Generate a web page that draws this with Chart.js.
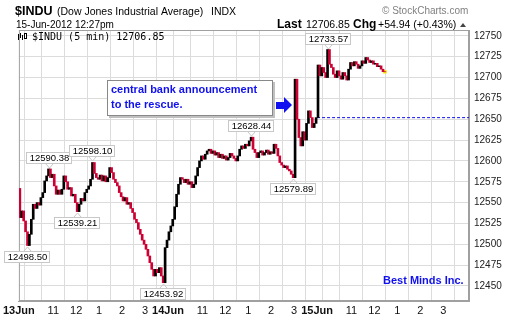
<!DOCTYPE html>
<html>
<head>
<meta charset="utf-8">
<script src="https://cdn.jsdelivr.net/npm/chart.js@4.4.1/dist/chart.umd.min.js"></script>
<style>
    html, body { margin: 0; padding: 0; background: #fff; }
    #wrap { width: 518px; height: 318px; }
</style>
</head>
<body>
<div id="wrap"><canvas id="indu"></canvas></div>
<script>
// 5 minute closes (9:30 to 16:00, 78 bars a day)
const day1Close = [
    12532, 12540, 12528, 12515, 12498.50, 12512, 12530, 12548, 12543, 12550,
    12547, 12556, 12562, 12576, 12582, 12590.38, 12580, 12584, 12570, 12560,
    12565, 12560, 12566, 12582, 12575, 12566, 12568, 12558, 12560, 12550,
    12539.21, 12548, 12555, 12552, 12562, 12566, 12570, 12578, 12598.10, 12585,
    12580, 12578, 12583, 12576, 12582, 12575, 12580, 12592, 12586, 12578,
    12574, 12570, 12562, 12557, 12552, 12556, 12548, 12550, 12543, 12538,
    12530, 12526, 12518, 12512, 12505, 12500, 12494, 12486, 12478, 12470,
    12462, 12470, 12466, 12472, 12462, 12453.92, 12496, 12505
];
const day2Close = [
    12515, 12522, 12530, 12545, 12560, 12572, 12580, 12578, 12574, 12578,
    12572, 12575, 12568, 12572, 12582, 12592, 12600, 12606, 12602, 12608,
    12612, 12614, 12609, 12612, 12607, 12610, 12604, 12608, 12603, 12606,
    12601, 12604, 12609, 12606, 12603, 12600, 12606, 12614, 12618, 12615,
    12620, 12618, 12624, 12628.44, 12614, 12610, 12604, 12610, 12612, 12607,
    12610, 12613, 12608, 12611, 12609, 12620, 12615, 12606, 12598, 12595,
    12592, 12594, 12590, 12588, 12584, 12579.89, 12698, 12650, 12628, 12618,
    12635, 12625, 12645, 12660, 12652, 12640, 12645, 12651.91
];
const day3Close = [
    12715, 12702, 12712, 12706, 12700, 12733.57, 12716, 12712, 12704, 12700,
    12708, 12702, 12698, 12706, 12702, 12697, 12710, 12718, 12714, 12719,
    12716, 12711, 12714, 12720, 12717, 12724, 12721, 12718, 12720, 12716,
    12717, 12713, 12714, 12710, 12707, 12706.85
];
const firstOpen = 12567;
const prevClose = 12651.91;

const barsPerDay = 78;
const dayLabels = ["13Jun", "14Jun", "15Jun"];
const hourBars = [6, 18, 30, 42, 54, 66];
const hourLabels = ["", "11", "12", "1", "2", "3"];
const yTicks = [12450, 12475, 12500, 12525, 12550, 12575, 12600, 12625, 12650, 12675, 12700, 12725, 12750];

// [day, bar, side] for the price callouts
const callouts = [
    [0, 4, "below"], [0, 15, "above"], [0, 30, "below"], [0, 38, "above"],
    [0, 75, "below"], [1, 43, "above"], [1, 65, "below"], [2, 5, "above"]
];

const FONT = '"Liberation Sans", Arial, sans-serif';
const UP = "#000000";
const DOWN = "#cc0033";

const closes = day1Close.concat(day2Close, day3Close);
let prev = firstOpen;
const bars = closes.map((c, i) => {
    const o = prev;
    prev = c;
    return { x: i + 0.5, y: [o, c] };
});
const barColors = bars.map((b) => (b.y[1] >= b.y[0] ? UP : DOWN));
const lastIdx = closes.length - 1;

const tickValues = [];
dayLabels.forEach((d, di) => {
    tickValues.push(di * barsPerDay);
    hourBars.forEach((h) => tickValues.push(di * barsPerDay + h));
});

function tickLabel(v) {
    const day = Math.floor(v / barsPerDay);
    const off = v - day * barsPerDay;
    if (off === 0) return dayLabels[day];
    return hourLabels[hourBars.indexOf(off)];
}

const overlay = {
    id: "overlay",
    beforeDraw(chart) {
        const ctx = chart.ctx;
        ctx.save();
        ctx.fillStyle = "#fff";
        ctx.fillRect(0, 0, chart.width, chart.height);
        ctx.restore();
    },
    beforeDatasetsDraw(chart) {
        const ctx = chart.ctx;
        const a = chart.chartArea;
        ctx.save();
        ctx.strokeStyle = "#a0a0a0";
        ctx.lineWidth = 1;
        ctx.strokeRect(a.left + 0.5, a.top + 0.5, a.right - a.left - 1, a.bottom - a.top - 1);
        ctx.restore();
    },
    afterDatasetsDraw(chart) {
        const ctx = chart.ctx;
        const xs = chart.scales.x;
        const ys = chart.scales.y;
        ctx.save();

        // callouts
        ctx.font = "9.5px " + FONT;
        ctx.textAlign = "center";
        ctx.textBaseline = "middle";
        callouts.forEach(([d, b, side]) => {
            const idx = d * barsPerDay + b;
            const v = closes[idx];
            const px = Math.round(xs.getPixelForValue(idx + 0.5));
            const py = ys.getPixelForValue(v);
            const txt = v.toFixed(2);
            const w = Math.round(ctx.measureText(txt).width) + 6;
            const h = 12;
            const top = side === "above" ? Math.round(py) - 5 - h : Math.round(py) + 5;
            const left = px - Math.round(w / 2);
            ctx.fillStyle = "#fff";
            ctx.fillRect(left, top, w, h);
            ctx.strokeStyle = "#c8c8c8";
            ctx.strokeRect(left + 0.5, top + 0.5, w - 1, h - 1);
            ctx.beginPath();
            if (side === "above") {
                ctx.moveTo(px - 3, top + h);
                ctx.lineTo(px + 0.5, top + h + 4);
                ctx.lineTo(px + 4, top + h);
            } else {
                ctx.moveTo(px - 3, top);
                ctx.lineTo(px + 0.5, top - 4);
                ctx.lineTo(px + 4, top);
            }
            ctx.stroke();
            ctx.fillStyle = "#000";
            ctx.fillText(txt, px + 0.5, top + h / 2 + 0.5);
        });

        // comment box
        ctx.fillStyle = "#c0c0c0";
        ctx.fillRect(109, 82, 166, 36);
        ctx.fillStyle = "#fff";
        ctx.fillRect(107, 80, 166, 36);
        ctx.strokeStyle = "#888";
        ctx.strokeRect(107.5, 80.5, 165, 35);
        ctx.fillStyle = "#1010f0";
        ctx.font = "bold 11px " + FONT;
        ctx.textAlign = "left";
        ctx.fillText("central bank announcement", 111, 90);
        ctx.fillText("to the rescue.", 111, 105);

        // arrow
        ctx.beginPath();
        ctx.moveTo(276, 102);
        ctx.lineTo(284, 102);
        ctx.lineTo(284, 97);
        ctx.lineTo(292, 105);
        ctx.lineTo(284, 113);
        ctx.lineTo(284, 109);
        ctx.lineTo(276, 109);
        ctx.closePath();
        ctx.fill();

        ctx.fillText("Best Minds Inc.", 383, 281);

        // legend
        ctx.fillStyle = "#000";
        ctx.fillRect(18, 34, 1, 6);
        ctx.fillRect(20, 33, 1, 5);
        ctx.fillRect(22, 35, 1, 5);
        ctx.fillRect(24, 33, 3, 6);
        ctx.fillStyle = "#fff";
        ctx.fillRect(25, 34, 1, 4);
        ctx.fillStyle = "#000";
        ctx.font = '10px "DejaVu Sans Mono", monospace';
        ctx.textBaseline = "alphabetic";
        ctx.fillText("$INDU (5 min) " + closes[lastIdx].toFixed(2), 32, 40);
        ctx.restore();
    },
    afterDraw(chart) {
        const ctx = chart.ctx;
        const last = closes[lastIdx];
        const chg = last - prevClose;
        ctx.save();
        ctx.textBaseline = "alphabetic";
        ctx.textAlign = "left";
        ctx.fillStyle = "#000";
        ctx.font = "bold 12.5px " + FONT;
        ctx.fillText("$INDU", 15, 15);
        ctx.font = "10.5px " + FONT;
        ctx.fillText("(Dow Jones Industrial Average)", 57, 15);
        ctx.fillText("INDX", 211, 15);
        ctx.font = "10px " + FONT;
        ctx.fillText("15-Jun-2012 12:27pm", 16, 28);
        ctx.font = "10.5px " + FONT;
        ctx.fillText(last.toFixed(2), 306, 28);
        ctx.fillText("+" + chg.toFixed(2) + " (+" + (chg / prevClose * 100).toFixed(2) + "%)", 378, 28);
        ctx.font = "bold 12px " + FONT;
        ctx.fillText("Last", 277, 28);
        ctx.fillText("Chg", 353, 28);
        ctx.fillStyle = "#808080";
        ctx.font = "10px " + FONT;
        ctx.fillText("\u00a9 StockCharts.com", 382, 14);
        ctx.fillStyle = "#444";
        ctx.beginPath();
        ctx.moveTo(460, 27);
        ctx.lineTo(463, 23);
        ctx.lineTo(466, 27);
        ctx.closePath();
        ctx.fill();
        ctx.restore();
    },
};

new Chart(document.getElementById("indu"), {
    type: "bar",
    data: {
        datasets: [
            {
                type: "bar",
                data: bars,
                backgroundColor: barColors,
                borderWidth: 0,
                barThickness: 2,
                order: 1,
            },
            {
                type: "line",
                data: [
                    { x: 2 * barsPerDay, y: prevClose },
                    { x: 235.5, y: prevClose },
                ],
                borderColor: "#1010f0",
                borderWidth: 1,
                borderDash: [3, 2],
                pointRadius: 0,
                order: 2,
            },
            {
                type: "scatter",
                data: [{ x: lastIdx + 0.5, y: closes[lastIdx] }],
                pointStyle: "rect",
                pointRadius: 2.5,
                backgroundColor: "#ffee00",
                borderWidth: 0,
                order: 3,
            },
        ],
    },
    options: {
        responsive: true,
        maintainAspectRatio: false,
        animation: false,
        devicePixelRatio: 1,
        layout: { padding: { top: 30, left: 16, right: 0, bottom: 0 } },
        plugins: {
            legend: { display: false },
            tooltip: { enabled: false },
        },
        scales: {
            x: {
                type: "linear",
                min: 0,
                max: 235.5,
                offset: false,
                grid: { color: "#dcdcdc", drawTicks: false },
                border: { color: "#a0a0a0" },
                afterBuildTicks: (scale) => {
                    scale.ticks = tickValues.map((v) => ({ value: v }));
                },
                afterFit: (scale) => {
                    scale.height = 17;
                },
                ticks: {
                    autoSkip: false,
                    maxRotation: 0,
                    padding: 3,
                    color: "#111",
                    font: (c) => ({
                        family: FONT,
                        size: 11,
                        weight: c.tick && c.tick.value % barsPerDay === 0 ? "bold" : "normal",
                    }),
                    callback: (v) => tickLabel(v),
                },
            },
            y: {
                position: "right",
                min: 12432,
                max: 12757,
                grid: { color: "#dcdcdc", drawTicks: false },
                border: { color: "#a0a0a0" },
                afterBuildTicks: (scale) => {
                    scale.ticks = yTicks.map((v) => ({ value: v }));
                },
                afterFit: (scale) => {
                    scale.width = 49;
                },
                ticks: {
                    padding: 5,
                    color: "#222",
                    font: { family: FONT, size: 10 },
                    callback: (v) => String(v),
                },
            },
        },
    },
    plugins: [overlay],
});
</script>
</body>
</html>
